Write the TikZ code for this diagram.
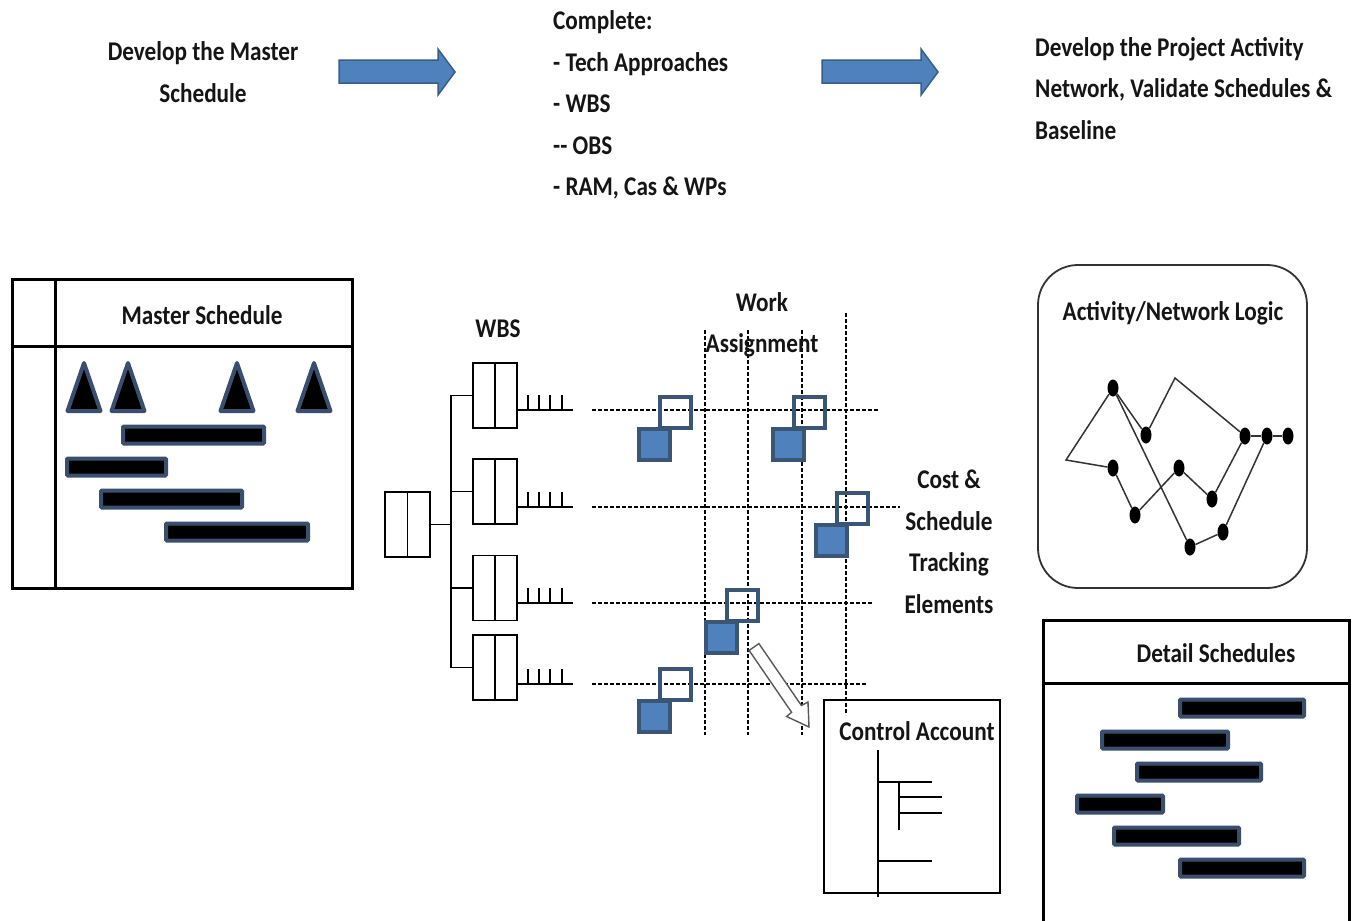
\documentclass[tikz,border=0pt]{standalone}
\usepackage{fontspec}
\setmainfont{Carlito}[FakeStretch=0.86]
\usetikzlibrary{calc,shapes.geometric}
\definecolor{txt}{HTML}{151515}
\definecolor{slate}{HTML}{3A4F6E}
\definecolor{blu}{HTML}{4F81BD}
\definecolor{bluedge}{HTML}{385D8A}
\definecolor{sqedge}{HTML}{3B5575}
\definecolor{netline}{HTML}{333333}
\begin{document}
\begin{tikzpicture}[x=1pt,y=-1pt,
  lbl/.style={font=\fontsize{27}{41.5}\selectfont\bfseries, text=txt, inner sep=0pt},
  thin/.style={line width=1.8pt, black},
  frame/.style={line width=3pt, black},
  wbsbox/.style={draw, line width=1.8pt, minimum width=44pt, minimum height=65pt, inner sep=0pt,
    path picture={\draw[line width=1.8pt] (path picture bounding box.north) -- (path picture bounding box.south);}},
  grid/.style={line width=1.4pt, dash pattern=on 4pt off 2pt, black},
  hollowsq/.style={draw=sqedge, line width=4pt, minimum size=31pt, inner sep=0pt},
  filledsq/.style={draw=sqedge, fill=blu, line width=4pt, minimum size=31pt, inner sep=0pt},
  bar/.style={draw=slate, fill=black, line width=4pt, rounded corners=1pt},
  milestone/.style={draw=slate, fill=black, line width=4pt, line join=round},
  bigarrow/.style={draw=bluedge, fill=blu, line width=1.5pt, line join=miter},
  actnode/.style={ellipse, fill=black, minimum width=11pt, minimum height=17pt, inner sep=0pt},
  netedge/.style={line width=1.5pt, netline},
]
\useasboundingbox (0,0) rectangle (1353,921);
\fill[white] (0,0) rectangle (1353,921);

% ---------------- top process row ----------------
\node[lbl, align=center] (step1) at (203,72) {Develop the Master\\Schedule};
\node[lbl, align=left, anchor=west] (step2) at (553,105)
  {Complete:\\- Tech Approaches\\- WBS\\-{}- OBS\\- RAM, Cas \& WPs};
\node[lbl, align=left, anchor=west] (step3) at (1035,88.5)
  {Develop the Project Activity\\Network, Validate Schedules \&\\Baseline};

\path[bigarrow] (339,60) -- (438,60) -- (438,49) -- (455,72) -- (438,95) -- (438,83) -- (339,83) -- cycle;
\path[bigarrow] (822,60) -- (921,60) -- (921,49) -- (938,72) -- (921,95) -- (921,83) -- (822,83) -- cycle;

% ---------------- master schedule ----------------
\draw[frame] (12,279) rectangle (352,588);
\draw[frame] (55,279) -- (55,588);
\draw[frame] (12,346) -- (352,346);
\node[lbl] (mstitle) at (202,315) {Master Schedule};
\foreach \cx in {84,128,237,314}
  \path[milestone] (\cx-16.5,411) -- (\cx,363) -- (\cx+16.5,411) -- cycle;
\path[bar] (123,426.5) rectangle (264,443.5);
\path[bar] (67,458.5) rectangle (166,475.5);
\path[bar] (101,490.5) rectangle (242,507.5);
\path[bar] (166,523.5) rectangle (308,540.5);

% ---------------- WBS tree ----------------
\node[lbl] (wbslbl) at (498,329) {WBS};
\node[wbsbox, minimum width=45pt] (root) at (407.5,524.5) {};
\node[wbsbox] (c1) at (495,395.5) {};
\node[wbsbox] (c2) at (495,491.5) {};
\node[wbsbox] (c3) at (495,588) {};
\node[wbsbox] (c4) at (495,667.5) {};
\coordinate (sp) at (451,0);
\draw[thin] (root.east) -- (root.east -| sp);
\draw[thin] (c1.west) -- (c1.west -| sp) -- (c4.west -| sp) -- (c4.west);
\draw[thin] (c2.west) -- (c2.west -| sp);
\draw[thin] (c3.west) -- (c3.west -| sp);

% work-package ticks and tracking rows
\foreach \c/\ry/\rend in {c1/410/878, c2/507/900, c3/603/872, c4/684/866}{
  \draw[thin] (\c.east |- 0,\ry) -- (573,\ry);
  \foreach \tx in {528,539,550,562}
    \draw[thin] (\tx,\ry) -- (\tx,\ry-15);
  \draw[grid] (592,\ry) -- (\rend,\ry);
}
\draw[grid] (705,330) -- (705,735);
\draw[grid] (748,330) -- (748,735);
\draw[grid] (802,330) -- (802,735);
\draw[grid] (846,313) -- (846,715);

\node[lbl, align=center] (walbl) at (762,325) {Work\\Assignment};
\node[lbl, align=center] (costlbl) at (949,542) {Cost \&\\Schedule\\Tracking\\Elements};

% cost/schedule tracking elements
\foreach \n/\hx/\hy in {1/675/412, 2/809/412, 3/852.5/508, 4/742/605, 5/675/684.5}{
  \node[hollowsq] (h\n) at (\hx,\hy) {};
  \node[filledsq] (f\n) at (\hx-21,\hy+32) {};
}

% roll-up arrow into the control account
\path[draw=gray!70!black, fill=white, line width=1.4pt, line join=miter]
  (749.1,650.4) -- (758.9,643.6) -- (801.4,705.5) -- (808,702) -- (809,727)
  -- (786.6,716.5) -- (791.6,712.3) -- cycle;

% ---------------- control account ----------------
\node[draw, line width=1.8pt, minimum width=176pt, minimum height=193pt, inner sep=0pt] (ca) at (912,796.5) {};
\node[lbl] (catitle) at (917,731) {Control Account};
\draw[thin] (878,750) -- (878,897);
\draw[thin] (878,782) -- (932,782);
\draw[thin] (899,782) -- (899,830);
\draw[thin] (899,797) -- (942,797);
\draw[thin] (899,813) -- (942,813);
\draw[thin] (878,861) -- (932,861);

% ---------------- activity / network logic ----------------
\draw[line width=1.8pt, netline, rounded corners=40pt] (1038,265) rectangle (1307,588);
\node[lbl] (nettitle) at (1173,313) {Activity/Network Logic};
\node[actnode] (A) at (1113,388) {};
\node[actnode] (B) at (1146,435) {};
\node[actnode] (C) at (1113,468) {};
\node[actnode] (D) at (1135,515) {};
\node[actnode] (E) at (1179,468) {};
\node[actnode] (F) at (1212,499) {};
\node[actnode] (G) at (1190,547) {};
\node[actnode] (H) at (1223,532) {};
\node[actnode] (I) at (1245,436) {};
\node[actnode] (J) at (1267,436) {};
\node[actnode] (K) at (1288,436) {};
\coordinate (L) at (1066,460);
\coordinate (T) at (1175,378);
\draw[netedge] (A) -- (L) -- (C);
\draw[netedge] (A) -- (B);
\draw[netedge] (A) -- (G);
\draw[netedge] (B) -- (T) -- (I);
\draw[netedge] (C) -- (D);
\draw[netedge] (D) -- (E);
\draw[netedge] (E) -- (F);
\draw[netedge] (F) -- (I);
\draw[netedge] (G) -- (H);
\draw[netedge] (H) -- (J);
\draw[netedge] (I) -- (J);
\draw[netedge] (J) -- (K);

% ---------------- detail schedules ----------------
\draw[frame] (1043,930) -- (1043,620) -- (1349,620) -- (1349,930);
\draw[frame] (1043,683) -- (1349,683);
\node[lbl] (dstitle) at (1216,653) {Detail Schedules};
\foreach \xa/\xb/\yc in {1178/1306/708, 1100/1230/740, 1135/1263/772, 1075/1165/804, 1112/1241/836, 1178/1306/868}
  \path[bar] (\xa+2,\yc-8.5) rectangle (\xb-2,\yc+8.5);
\end{tikzpicture}
\end{document}
